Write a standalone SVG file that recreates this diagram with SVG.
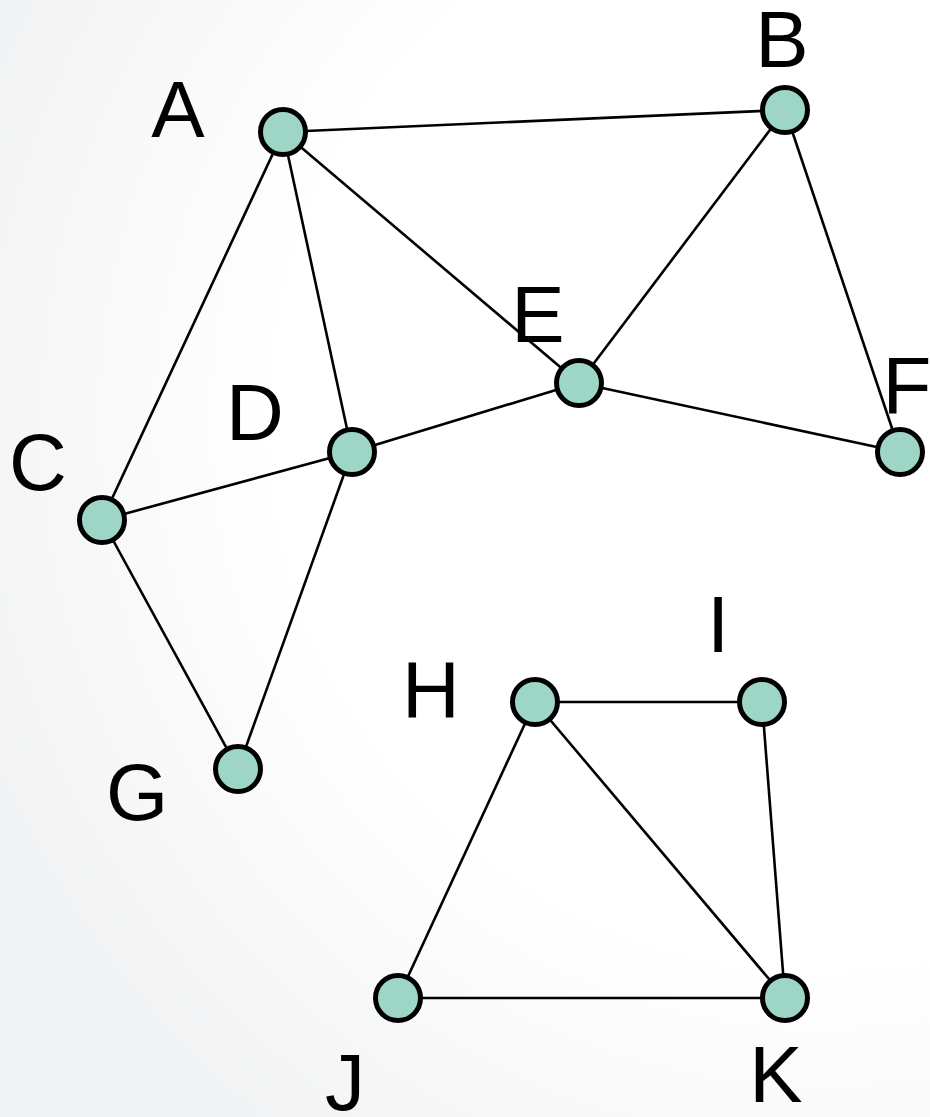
<svg xmlns="http://www.w3.org/2000/svg" width="930" height="1117" viewBox="0 0 930 1117">
  <defs>
    <radialGradient id="bg" cx="820" cy="420" r="900" gradientUnits="userSpaceOnUse">
      <stop offset="0.6" stop-color="#ffffff"/>
      <stop offset="1" stop-color="#f2f3f4"/>
    </radialGradient>
  </defs>
  <style>
    .edge { stroke: #000; stroke-width: 2.6; fill: none; }
    .node { fill: #9dd6c6; stroke: #000; stroke-width: 5; }
    .label { font-family: "Liberation Sans", Arial, sans-serif; font-size: 80px; fill: #000; text-anchor: middle; }
  </style>
  <rect width="930" height="1117" fill="url(#bg)"/>

  <g id="edges">
    <line class="edge" x1="283" y1="132" x2="785" y2="110"/>
    <line class="edge" x1="283" y1="132" x2="102" y2="520"/>
    <line class="edge" x1="283" y1="132" x2="352" y2="452"/>
    <line class="edge" x1="283" y1="132" x2="579" y2="383"/>
    <line class="edge" x1="785" y1="110" x2="579" y2="383"/>
    <line class="edge" x1="785" y1="110" x2="900" y2="452"/>
    <line class="edge" x1="579" y1="383" x2="900" y2="452"/>
    <line class="edge" x1="352" y1="452" x2="579" y2="383"/>
    <line class="edge" x1="102" y1="520" x2="352" y2="452"/>
    <line class="edge" x1="102" y1="520" x2="238" y2="769"/>
    <line class="edge" x1="352" y1="452" x2="238" y2="769"/>
    <line class="edge" x1="535" y1="702" x2="762" y2="702"/>
    <line class="edge" x1="535" y1="702" x2="398" y2="998"/>
    <line class="edge" x1="535" y1="702" x2="785" y2="998"/>
    <line class="edge" x1="762" y1="702" x2="785" y2="998"/>
    <line class="edge" x1="398" y1="998" x2="785" y2="998"/>
  </g>

  <g id="node-A"><circle class="node" cx="283" cy="132" r="22.5"/><text class="label" x="178" y="137">A</text></g>
  <g id="node-B"><circle class="node" cx="785" cy="110" r="22.5"/><text class="label" x="782" y="67">B</text></g>
  <g id="node-C"><circle class="node" cx="102" cy="520" r="22.5"/><text class="label" x="38" y="490">C</text></g>
  <g id="node-D"><circle class="node" cx="352" cy="452" r="22.5"/><text class="label" x="255" y="440">D</text></g>
  <g id="node-E"><circle class="node" cx="579" cy="383" r="22.5"/><text class="label" x="538" y="342">E</text></g>
  <g id="node-F"><circle class="node" cx="900" cy="452" r="22.5"/><text class="label" x="907" y="413">F</text></g>
  <g id="node-G"><circle class="node" cx="238" cy="769" r="22.5"/><text class="label" x="137" y="820">G</text></g>
  <g id="node-H"><circle class="node" cx="535" cy="702" r="22.5"/><text class="label" x="431" y="717">H</text></g>
  <g id="node-I"><circle class="node" cx="762" cy="702" r="22.5"/><text class="label" x="718" y="652">I</text></g>
  <g id="node-J"><circle class="node" cx="398" cy="998" r="22.5"/><text class="label" x="345" y="1110">J</text></g>
  <g id="node-K"><circle class="node" cx="785" cy="998" r="22.5"/><text class="label" x="776" y="1102">K</text></g>
</svg>
